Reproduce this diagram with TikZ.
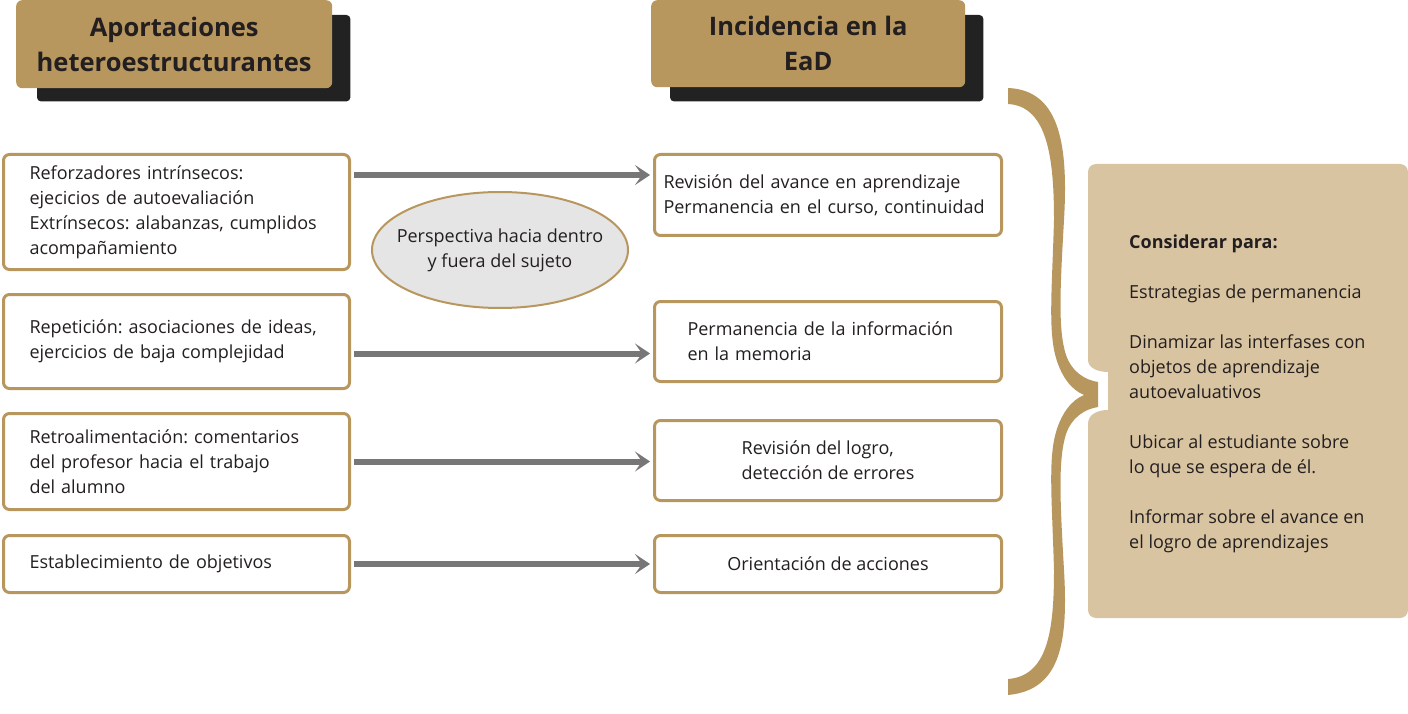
\documentclass[tikz,border=0pt]{standalone}
\usepackage{fontspec}
\setmainfont{Open Sans}
\frenchspacing
\usetikzlibrary{shapes.geometric,arrows.meta,backgrounds}
\definecolor{gold}{HTML}{B8975F}
\definecolor{tan}{HTML}{D9C4A1}
\definecolor{shadowgray}{HTML}{222222}
\definecolor{arrowgray}{HTML}{777777}
\definecolor{ovalgray}{HTML}{E5E5E5}
\definecolor{ink}{HTML}{231F20}
\tikzset{
  head/.style={fill=gold, rounded corners=6pt, anchor=north west, minimum width=316pt,
    minimum height=88pt, align=center, text=ink, font=\fontsize{25.5}{35}\selectfont\bfseries},
  leftbox/.style={draw=gold, line width=3pt, fill=white, rounded corners=6pt, anchor=north west,
    inner xsep=26pt, text width=294pt, align=left, text=ink},
  rightbox/.style={draw=gold, line width=3pt, fill=white, rounded corners=6pt, anchor=north west,
    minimum width=347pt, align=left, text=ink},
  conn/.style={draw=arrowgray, line width=6pt, -{Stealth[length=15pt,width=20pt,inset=7pt]}},
}
\begin{document}
\begin{tikzpicture}[x=1pt,y=-1pt]
\useasboundingbox (0,0) rectangle (1408,714);
{\fontsize{18}{25}\selectfont

% Headers
\node[head] (h1) at (16,0) {Aportaciones\\heteroestructurantes};%
\node[head, minimum width=314pt, minimum height=87pt] (h2) at (651,0) {Incidencia en la\\EaD};%
\begin{scope}[on background layer]
  \fill[shadowgray, rounded corners=4pt] ([shift={(21,15)}]h1.north west) rectangle ([shift={(18,13)}]h1.south east);%
  \fill[shadowgray, rounded corners=4pt] ([shift={(19,15)}]h2.north west) rectangle ([shift={(18,14)}]h2.south east);%
\end{scope}

% Left boxes
\node[leftbox, minimum height=115pt] (l1) at (2,153) {Reforzadores intrínsecos:\\ejecicios de autoevaliación\\Extrínsecos: alabanzas, cumplidos\\acompañamiento};%
\node[leftbox, minimum height=94pt] (l2) at (2,293) {Repetición: asociaciones de ideas,\\ejercicios de baja complejidad};%
\node[leftbox, minimum height=96pt] (l3) at (2,412) {Retroalimentación: comentarios\\del profesor hacia el trabajo\\del alumno};%
\node[leftbox, minimum height=57pt] (l4) at (2,534) {Establecimiento de objetivos};%

% Right boxes
\node[rightbox, minimum height=81pt, inner xsep=9pt, text width=329pt] (r1) at (653,153) {Revisión del avance en aprendizaje\\Permanencia en el curso, continuidad};%
\node[rightbox, minimum height=80pt, inner xsep=33pt, text width=281pt] (r2) at (653,300) {Permanencia de la información\\en la memoria};%
\node[rightbox, minimum height=80pt] (r3) at (653,419) {Revisión del logro,\\detección de errores};%
\node[rightbox, minimum height=57pt] (r4) at (653,534) {Orientación de acciones};%

% Oval
\node[ellipse, draw=gold, line width=2pt, fill=ovalgray, inner xsep=-18pt, inner ysep=0pt,
  minimum width=256pt, minimum height=116pt, align=center, text=ink] (oval) at (500,250) {Perspectiva hacia dentro\\y fuera del sujeto};%

% Arrows
\draw[conn] ([shift={(3,-37)}]l1.east) -- ([shift={(-3,-37)}]l1.east -| r1.west);%
\draw[conn] ([shift={(3,12)}]l2.east) -- ([shift={(-3,12)}]l2.east -| r2.west);%
\draw[conn] ([xshift=3pt]l3.east) -- ([xshift=-3pt]l3.east -| r3.west);%
\draw[conn] ([xshift=3pt]l4.east) -- ([xshift=-3pt]l4.east -| r4.west);%

% Brace
\fill[gold] (1008,88) .. controls (1062,90) and (1068,150) .. (1064,220)
  .. controls (1060,290) and (1058,330) .. (1066,355)
  .. controls (1072,372) and (1085,380) .. (1098,382)
  -- (1098,407)
  .. controls (1085,409) and (1072,417) .. (1066,434)
  .. controls (1058,460) and (1060,500) .. (1064,570)
  .. controls (1068,640) and (1062,690) .. (1008,695)
  -- (1008,679)
  .. controls (1048,676) and (1054,630) .. (1054,570)
  .. controls (1052,500) and (1048,460) .. (1056,432)
  .. controls (1062,412) and (1072,400) .. (1084,395)
  .. controls (1072,390) and (1062,378) .. (1056,358)
  .. controls (1048,330) and (1052,290) .. (1054,220)
  .. controls (1054,160) and (1048,106) .. (1008,104) -- cycle;%

% Panel
\fill[tan] (1088,360) [rounded corners=8pt] -- (1088,164) -- (1408,164) -- (1408,618) -- (1088,618) [sharp corners]
  -- (1088,424) .. controls (1088,414) and (1098,410) .. (1108,410) -- (1108,372)
  .. controls (1098,372) and (1088,368) .. (1088,360) -- cycle;%
\node[anchor=west, align=left, text=ink, inner sep=0pt] (notes) at (1129,394)
  {\textbf{Considerar para:}\\[25pt]
   Estrategias de permanencia\\[25pt]
   Dinamizar las interfases con\\objetos de aprendizaje\\autoevaluativos\\[25pt]
   Ubicar al estudiante sobre\\lo que se espera de él.\\[25pt]
   Informar sobre el avance en\\el logro de aprendizajes};%
}
\end{tikzpicture}
\end{document}
